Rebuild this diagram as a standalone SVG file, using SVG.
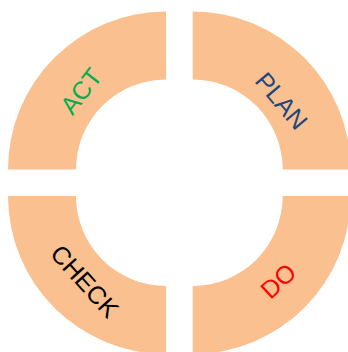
<svg xmlns="http://www.w3.org/2000/svg" width="348" height="352" viewBox="0 0 348 352">
<style>
.seg{fill:#FAC090;stroke:none}
.lbl{font-family:"Liberation Sans",Arial,sans-serif;font-size:25px;text-anchor:middle}
</style>
<rect width="348" height="352" fill="#ffffff"/>
<g id="act">
<path class="seg" d="M8,169.5 A158,158 0 0 1 166,11.5 L166,79.5 A90,90 0 0 0 76,169.5 Z"/>
<text class="lbl" fill="#00B050" transform="translate(80.8,91) rotate(-52)" y="9">ACT</text>
</g>
<g id="plan">
<path class="seg" d="M192.7,11.5 A158,158 0 0 1 350.7,169.5 L282.7,169.5 A90,90 0 0 0 192.7,79.5 Z"/>
<text class="lbl" fill="#1F497D" transform="translate(281.7,100.7) rotate(50)" y="9">PLAN</text>
</g>
<g id="check">
<path class="seg" d="M8,196 L76,196 A90,90 0 0 0 166,286 L166,354 A158,158 0 0 1 8,196 Z"/>
<text class="lbl" fill="#000000" transform="translate(85,281) rotate(48)" y="9">CHECK</text>
</g>
<g id="do">
<path class="seg" d="M282.7,196 L350.7,196 A158,158 0 0 1 192.7,354 L192.7,286 A90,90 0 0 0 282.7,196 Z"/>
<text class="lbl" fill="#FF0000" transform="translate(278,280.8) rotate(-43)" y="9">DO</text>
</g>
<g id="connectors"></g>
</svg>
